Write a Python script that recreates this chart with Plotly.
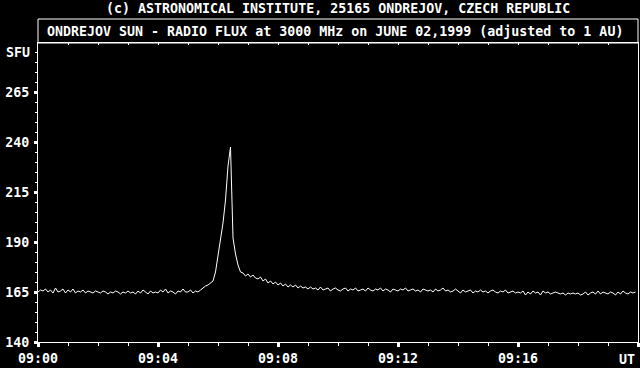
import plotly.graph_objects as go

# ---- data -------------------------------------------------------------
step_seconds = 5  # one sample every 5 s starting at 09:00:00 UT
flux_sfu = [
    # 09:00
    165, 166, 165.5, 166.5, 165, 166, 164.5, 167, 165, 165.5, 166.5, 164.5,
    # 09:01
    166, 165, 166.5, 164.5, 165.5, 165, 166, 164.5, 165.5, 165, 164.5, 165.5,
    # 09:02
    165, 164.5, 165.5, 165, 164, 165, 164.5, 165.5, 165, 164, 165, 164.5,
    # 09:03
    165.5, 164.5, 165, 164, 165.5, 164.5, 166, 165, 164, 165.5, 164.5, 165,
    # 09:04
    164.5, 166, 165, 166.5, 164.5, 165.5, 165, 164, 165.5, 165, 166.5, 165,
    # 09:05
    165, 166, 164.5, 165.5, 165, 166, 167, 168, 168.5, 169.5, 170.5, 175,
    # 09:06
    182.5, 190, 199.5, 211, 228, 237.5, 192, 184, 178.5, 175, 174.5, 173,
    # 09:07
    174, 172.5, 173.5, 172, 171.5, 172.5, 170.5, 171.5, 169.5, 170.5, 169, 170,
    # 09:08
    168.5, 169.5, 168, 169, 167.5, 168.5, 167.5, 168.5, 167, 168, 167, 167.5,
    # 09:09
    166.5, 167.5, 166.5, 167, 166, 167.5, 166, 166.5, 167, 165.5, 166.5, 167,
    # 09:10
    166, 165.5, 166.5, 167, 165.5, 166.5, 166, 167, 165.5, 166, 166.5, 165.5,
    # 09:11
    167, 166, 165.5, 166.5, 166, 167, 165.5, 166.5, 166, 165, 166.5, 166,
    # 09:12
    165.5, 166.5, 166, 167, 165.5, 166, 166.5, 165.5, 166, 165, 166.5, 166,
    # 09:13
    165.5, 166, 165, 166.5, 165.5, 166, 167, 165.5, 166, 165, 165.5, 166.5,
    # 09:14
    165.5, 164.5, 166, 165, 165.5, 166, 164.5, 165.5, 165, 166, 165, 165.5,
    # 09:15
    164.5, 165.5, 166, 165, 164.5, 165.5, 165, 166, 164.5, 165, 165.5, 164.5,
    # 09:16
    165, 164.5, 165.5, 163.5, 165, 164, 165.5, 164.5, 165, 163.5, 165.5, 164.5,
    # 09:17
    165, 164, 164.5, 165, 164.5, 164, 164.5, 163.5, 164.5, 164, 164.5, 164,
    # 09:18
    164.5, 163.5, 164, 165, 163.5, 164.5, 165, 164, 165.5, 164, 165, 164.5,
    # 09:19
    164, 165, 164.5, 163.5, 165, 164, 165.5, 164.5, 164, 165, 164.5, 165,
]
minutes = [i * step_seconds / 60 for i in range(len(flux_sfu))]

x_tickvals = [0, 4, 8, 12, 16, 20]
x_ticktext = ["09:00", "09:04", "09:08", "09:12", "09:16", ""]
y_tickvals = [140, 165, 190, 215, 240, 265]
y_ticktext = ["140", "165", "190", "215", "240", "265"]

title_text = "(c) ASTRONOMICAL INSTITUTE, 25165 ONDREJOV, CZECH REPUBLIC"
subtitle_text = "ONDREJOV SUN - RADIO FLUX at 3000 MHz on JUNE 02,1999 (adjusted to 1 AU)"

# ---- figure -----------------------------------------------------------
FONT = dict(family="DejaVu Sans Mono", size=13.3, color="white", weight="bold")
W, H = 640, 368
ML, MR, MT, MB = 38, 2, 43, 26
PH = H - MT - MB

fig = go.Figure()
fig.add_trace(go.Scatter(x=minutes, y=flux_sfu, mode="lines",
                         line=dict(color="white", width=1),
                         hoverinfo="skip", showlegend=False))
fig.add_trace(go.Scatter(x=[None], y=[None], xaxis="x2", mode="lines",
                         hoverinfo="skip", showlegend=False))

fig.update_layout(
    width=W, height=H,
    margin=dict(l=ML, r=MR, t=MT, b=MB, pad=0),
    paper_bgcolor="black", plot_bgcolor="black",
    font=FONT,
    xaxis=dict(range=[0, 20], showgrid=False, zeroline=False,
               showline=True, linecolor="white", linewidth=1, mirror=True,
               tickmode="array", tickvals=x_tickvals, ticktext=x_ticktext,
               ticks="outside", ticklen=4, tickwidth=3, tickcolor="white",
               tickfont=FONT,
               minor=dict(tickmode="linear", tick0=0, dtick=1,
                          ticks="outside", ticklen=3, tickwidth=1,
                          tickcolor="white", showgrid=False)),
    xaxis2=dict(range=[0, 20], overlaying="x", side="top", showgrid=False,
                zeroline=False, showline=False, showticklabels=False,
                tickmode="linear", tick0=0, dtick=1,
                ticks="inside", ticklen=2, tickwidth=1, tickcolor="white"),
    yaxis=dict(range=[140, 140 + PH / 2], showgrid=False, zeroline=False,
               showline=True, linecolor="white", linewidth=1, mirror=True,
               tickmode="array", tickvals=y_tickvals, ticktext=y_ticktext,
               ticks="outside", ticklen=3, tickwidth=3, tickcolor="white",
               tickfont=FONT, ticklabelstandoff=2,
               minor=dict(tickmode="linear", tick0=140, dtick=5,
                          ticks="outside", ticklen=2, tickwidth=1,
                          tickcolor="white", showgrid=False)),
)

# subtitle box
fig.add_shape(type="rect", xref="paper", yref="paper",
              x0=0, x1=1, y0=1, y1=1 + 24 / PH,
              line=dict(color="white", width=1), fillcolor="rgba(0,0,0,0)")

fig.add_annotation(text=title_text, xref="paper", yref="paper",
                   x=0.5, y=1 + (MT - 8) / PH, xanchor="center", yanchor="middle",
                   showarrow=False, font=FONT)
fig.add_annotation(text=subtitle_text, xref="paper", yref="paper",
                   x=0.495, y=1 + (MT - 31) / PH, xanchor="center", yanchor="middle",
                   showarrow=False, font=FONT)
fig.add_annotation(text="SFU", xref="paper", yref="y",
                   x=-6 / (W - ML - MR), y=285, xanchor="right", yanchor="middle",
                   showarrow=False, font=FONT)
fig.add_annotation(text="UT", xref="paper", yref="paper",
                   x=1 - 1 / (W - ML - MR), y=-17 / PH, xanchor="right", yanchor="middle",
                   showarrow=False, font=FONT)

fig.write_html("out.html")
